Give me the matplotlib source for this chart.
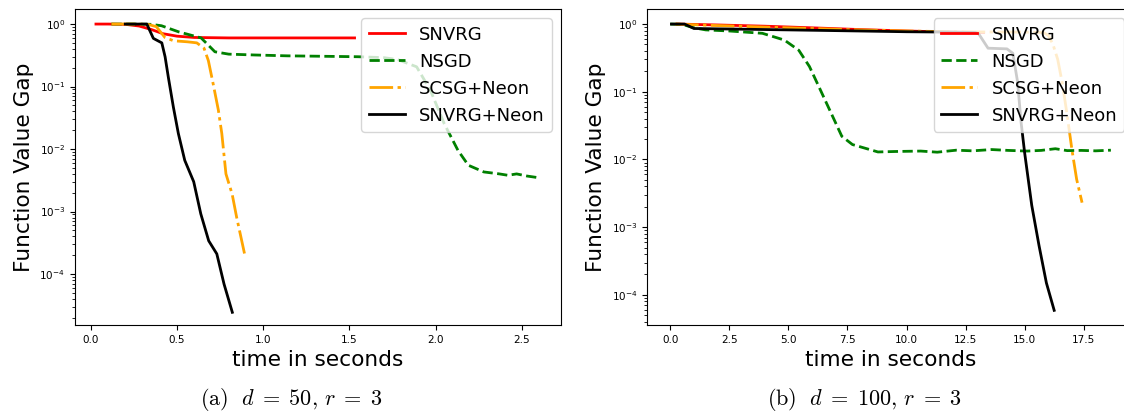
#! /usr/bin/env python3

import matplotlib
matplotlib.use('Agg')
import matplotlib.pyplot as plt

plt.rcParams['mathtext.fontset'] = 'cm'

labels = ['SNVRG', 'NSGD', 'SCSG+Neon', 'SNVRG+Neon']
colors = ['red', 'green', 'orange', 'black']

# (a) d = 50, r = 3
a_snvrg_t = [0.03, 0.1, 0.2, 0.28, 0.35, 0.42, 0.5, 0.6, 0.8, 1.0, 1.2, 1.4, 1.53]
a_snvrg_f = [1.0, 1.0, 0.99, 0.93, 0.82, 0.70, 0.64, 0.61, 0.60, 0.60, 0.60, 0.60, 0.60]

a_nsgd_t = [0.12, 0.25, 0.35, 0.41, 0.51, 0.64, 0.72, 0.80, 0.95, 1.14, 1.35, 1.55,
            1.70, 1.78, 1.89, 1.97, 2.05, 2.13, 2.19, 2.28, 2.37, 2.42, 2.47, 2.53, 2.59]
a_nsgd_f = [1.0, 1.0, 0.99, 0.94, 0.75, 0.60, 0.36, 0.33, 0.32, 0.31, 0.305, 0.30,
            0.29, 0.27, 0.207, 0.087, 0.0255, 0.0095, 0.0055, 0.0043, 0.0040, 0.0038,
            0.0040, 0.0037, 0.0035]

a_scsg_t = [0.12, 0.25, 0.33, 0.38, 0.43, 0.48, 0.56, 0.615, 0.657, 0.682, 0.71, 0.74,
            0.76, 0.784, 0.82, 0.846, 0.892]
a_scsg_f = [1.0, 1.0, 0.99, 0.91, 0.61, 0.54, 0.52, 0.50, 0.41, 0.26, 0.11, 0.042,
            0.0177, 0.004, 0.0019, 0.00081, 0.00021]

a_neon_t = [0.2, 0.27, 0.325, 0.363, 0.412, 0.431, 0.45, 0.479, 0.508, 0.545, 0.597,
            0.638, 0.684, 0.731, 0.773, 0.821]
a_neon_f = [1.0, 1.0, 1.0, 0.59, 0.50, 0.30, 0.14, 0.047, 0.0177, 0.0066, 0.0030,
            0.00092, 0.00034, 0.00021, 0.000069, 0.0000244]

# (b) d = 100, r = 3
b_snvrg_t = [0.3, 2.0, 4.0, 6.0, 8.0, 10.0, 12.0, 13.26]
b_snvrg_f = [1.0, 0.97, 0.93, 0.88, 0.83, 0.79, 0.76, 0.75]

b_nsgd_t = [0.0, 0.5, 1.0, 1.5, 2.5, 3.9, 4.83, 5.44, 5.89, 6.35, 6.8, 7.26, 7.71, 8.32,
            8.79, 9.5, 10.6, 11.3, 12.1, 12.8, 13.6, 14.3, 15.1, 15.7, 16.3, 16.8, 17.4,
            18.0, 18.65]
b_nsgd_f = [1.0, 0.99, 0.88, 0.82, 0.79, 0.73, 0.58, 0.41, 0.236, 0.107, 0.049, 0.022,
            0.0166, 0.0144, 0.0129, 0.0131, 0.0133, 0.0128, 0.0137, 0.0134, 0.0140,
            0.0136, 0.0133, 0.0136, 0.0144, 0.0135, 0.0136, 0.0134, 0.0137]

b_scsg_t = [0.2, 2.0, 5.0, 8.0, 10.0, 12.0, 13.0, 15.0, 15.8, 16.0, 16.2, 16.4, 16.6,
            16.8, 17.0, 17.2, 17.43]
b_scsg_f = [1.0, 0.95, 0.88, 0.82, 0.79, 0.77, 0.765, 0.76, 0.75, 0.68, 0.5, 0.3, 0.13,
            0.045, 0.014, 0.0051, 0.0023]

b_neon_t = [0.05, 0.6, 0.8, 1.0, 2.0, 4.0, 6.0, 8.0, 10.0, 12.0, 12.9, 13.05, 13.45,
            14.25, 14.5, 14.7, 14.85, 15.0, 15.3, 15.61, 15.92, 16.25]
b_neon_f = [1.0, 1.0, 0.93, 0.86, 0.85, 0.83, 0.81, 0.79, 0.77, 0.76, 0.75, 0.72, 0.44,
            0.43, 0.37, 0.14, 0.035, 0.0125, 0.0021, 0.00053, 0.00015, 0.000059]

styles = [dict(ls='-'), dict(ls='--'), dict(ls='-.', dashes=(8.5, 1.6, 1.2, 1.6)),
          dict(ls='-')]

fig = plt.figure(figsize=(11.24, 4.11), dpi=100)
ax1 = fig.add_axes([0.0665, 0.2092, 0.4327, 0.768])
ax2 = fig.add_axes([0.5756, 0.2092, 0.4327, 0.768])

panels = [
    (ax1, [(a_snvrg_t, a_snvrg_f), (a_nsgd_t, a_nsgd_f), (a_scsg_t, a_scsg_f),
           (a_neon_t, a_neon_f)]),
    (ax2, [(b_snvrg_t, b_snvrg_f), (b_nsgd_t, b_nsgd_f), (b_scsg_t, b_scsg_f),
           (b_neon_t, b_neon_f)]),
]

for ax, series in panels:
    for (t, f), lab, c, st in zip(series, labels, colors, styles):
        ax.plot(t, f, color=c, lw=2, label=lab, **st)
    ax.set_yscale('log')
    ax.set_xlabel('time in seconds', fontsize=15.6)
    ax.set_ylabel('Function Value Gap', fontsize=15.6)
    ax.tick_params(labelsize=7.5)
    ax.legend(loc='upper right', fontsize=13)

ax1.set_xlim(-0.093, 2.728)
ax1.set_ylim(10 ** -4.816, 10 ** 0.235)
ax1.set_xticks([0.0, 0.5, 1.0, 1.5, 2.0, 2.5])
ax2.set_xlim(-0.987, 19.6)
ax2.set_ylim(10 ** -4.446, 10 ** 0.217)
ax2.set_xticks([0.0, 2.5, 5.0, 7.5, 10.0, 12.5, 15.0, 17.5])

fig.text(291 / 1124, 6.5 / 411, r'$\mathrm{(a)}\ \ d\;=\;50,\,r\;=\;3$', fontsize=16,
         ha='center', va='baseline')
fig.text(864 / 1124, 6.5 / 411, r'$\mathrm{(b)}\ \ d\;=\;100,\,r\;=\;3$', fontsize=16,
         ha='center', va='baseline')

plt.savefig('out.png', dpi=100)
